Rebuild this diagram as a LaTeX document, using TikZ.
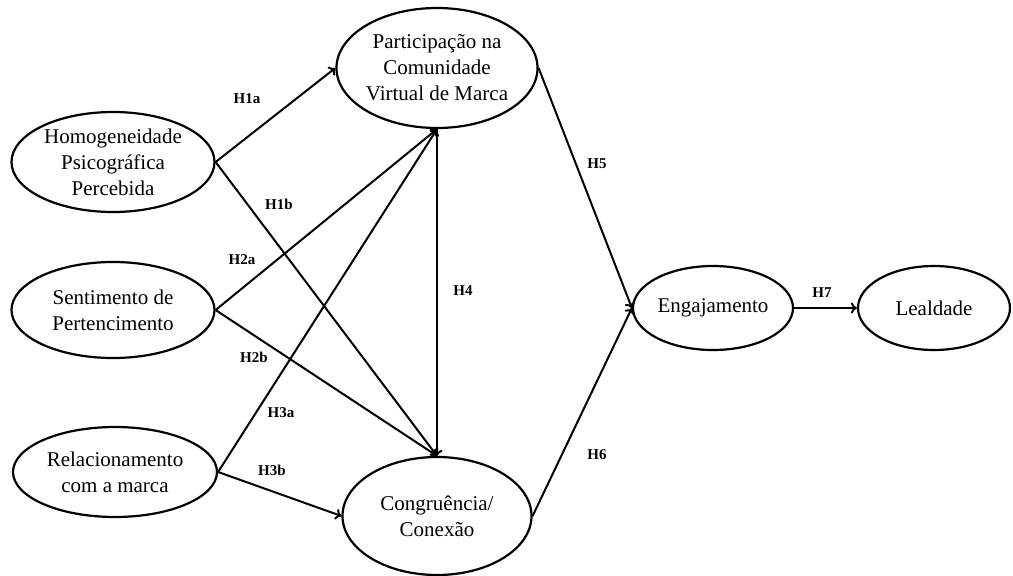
\documentclass[tikz,border=0pt]{standalone}
\usepackage{fontspec}
\setmainfont{Liberation Serif}
\usepackage{tikz}
\usetikzlibrary{positioning}
\usetikzlibrary{shapes.geometric}
\usetikzlibrary{arrows.meta}

\begin{document}
\begin{tikzpicture}[
                          x=1pt, y=-1pt,
                          construct/.style={ellipse, draw, line width=2.2pt, inner sep=0pt, align=center, font=\fontsize{21}{26}\selectfont},
                          hyp/.style={font=\bfseries\fontsize{15}{18}\selectfont},
                          path/.style={line width=2pt, -{To[length=6pt,width=11pt]}},
                      ]
                      \useasboundingbox (0,0) rectangle (1013,576);
                      %Nodes
                      \node[construct, minimum width=203pt, minimum height=100pt] (homog) at (113,162) {Homogeneidade\\Psicográfica\\Percebida};
                      \node[construct, minimum width=203pt, minimum height=96pt]  (sent)  at (113,310) {Sentimento de\\Pertencimento};
                      \node[construct, minimum width=204pt, minimum height=90pt]  (rel)   at (115,472) {Relacionamento\\com a marca};
                      \node[construct, minimum width=189pt, minimum height=120pt] (part)  at (437,68)  {Participação na\\Comunidade\\Virtual de Marca};
                      \node[construct, minimum width=189pt, minimum height=118pt] (congr) at (437,516) {Congruência/\\Conexão};
                      \node[construct, minimum width=160pt, minimum height=84pt]  (eng)   at (713,308) {Engajamento};
                      \node[construct, minimum width=152pt, minimum height=84pt]  (leal)  at (934,308) {Lealdade};

                      %Labels
                      \node[hyp] (h1a) at (247,99)  {H1a};
                      \node[hyp] (h1b) at (279,204) {H1b};
                      \node[hyp] (h2a) at (242,260) {H2a};
                      \node[hyp] (h2b) at (254,357) {H2b};
                      \node[hyp] (h3a) at (281,413) {H3a};
                      \node[hyp] (h3b) at (272,470) {H3b};
                      \node[hyp] (h4)  at (463,291) {H4};
                      \node[hyp] (h5)  at (597,164) {H5};
                      \node[hyp] (h6)  at (597,455) {H6};
                      \node[hyp] (h7)  at (822,293) {H7};

                      %Lines
                      \draw[path] (homog.east) -- (part.west);
                      \draw[path] (homog.east) -- (congr.north);
                      \draw[path] (sent.east) -- (part.south);
                      \draw[path] (sent.east) -- (congr.north);
                      \draw[path] (rel.east) -- (part.south);
                      \draw[path] (rel.east) -- (congr.west);
                      \draw[path] (part.south) -- (congr.north);
                      \draw[path] (part.east) -- (eng.west);
                      \draw[path] (congr.east) -- (eng.west);
                      \draw[path] (eng.east) -- (leal.west);
                  \end{tikzpicture}
\end{document}
